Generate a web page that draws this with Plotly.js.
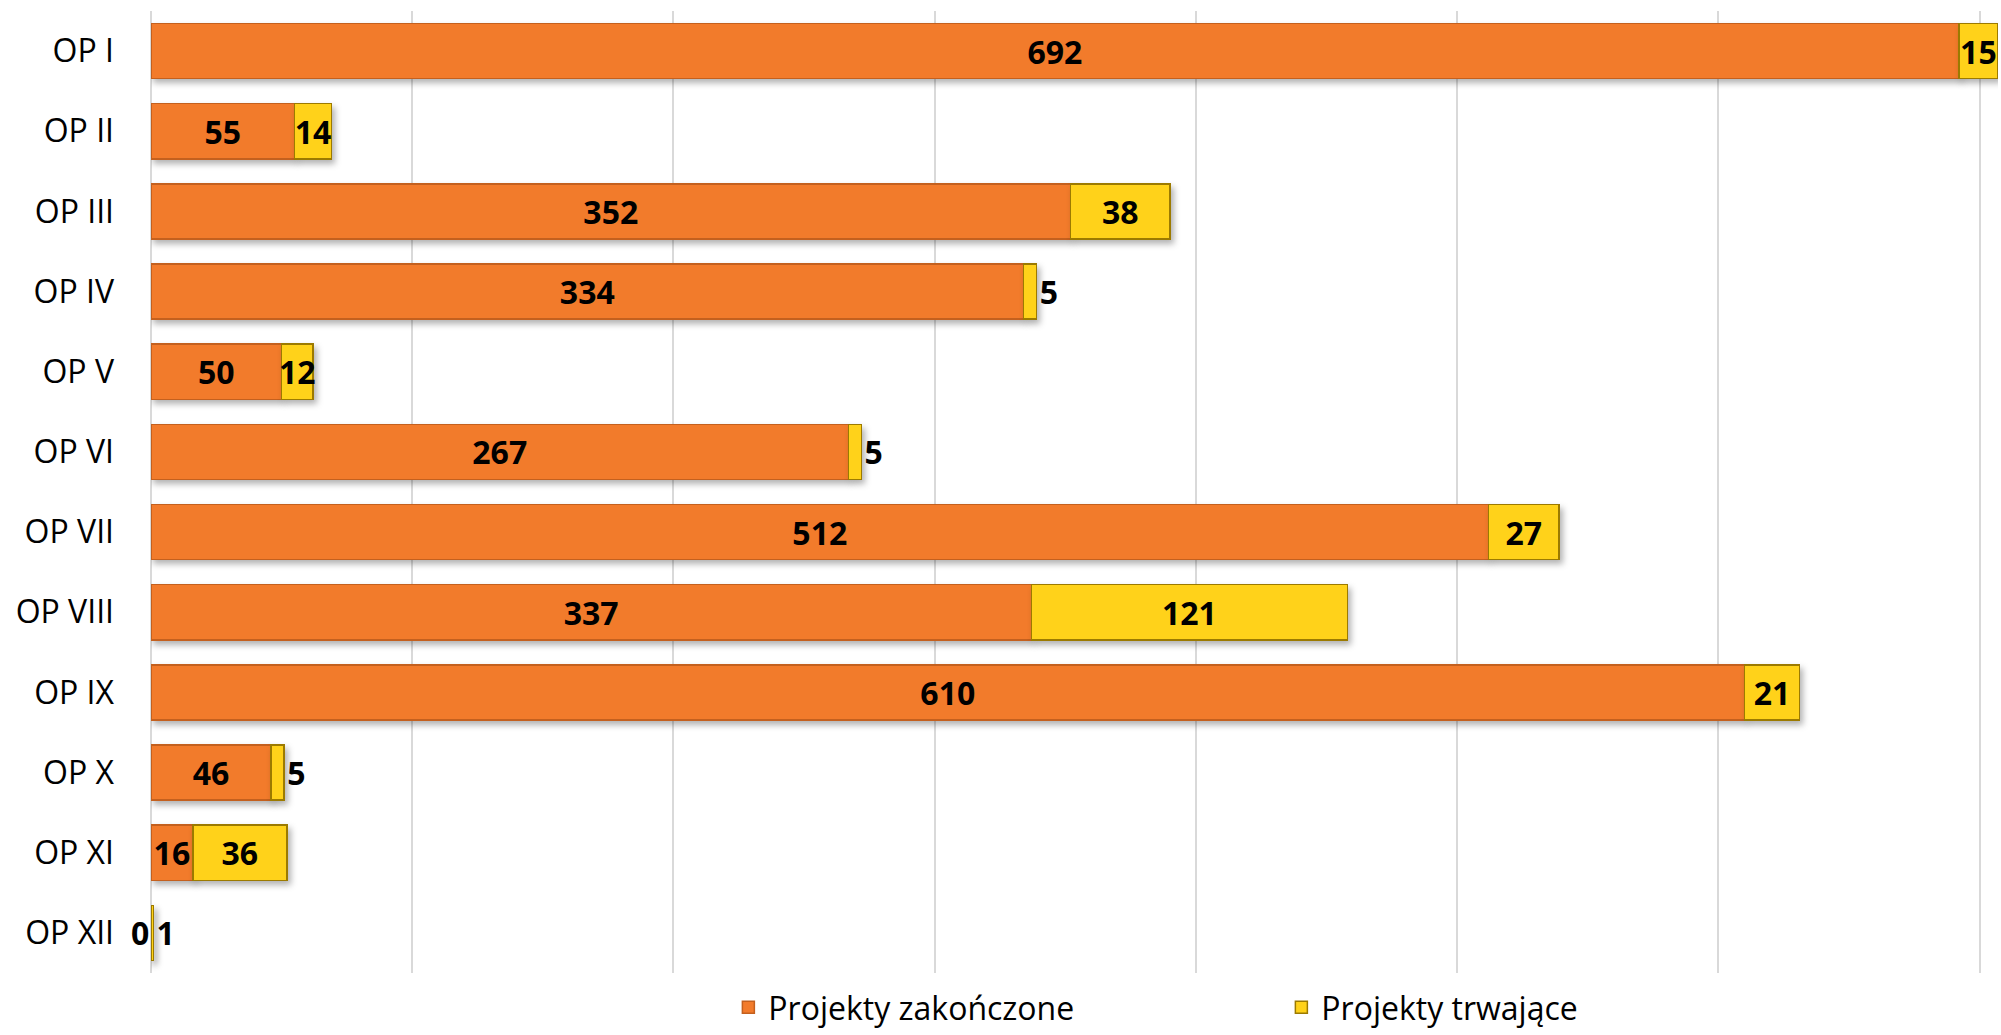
<!DOCTYPE html>
<html>
<head>
<meta charset="utf-8">
<script src="https://cdn.plot.ly/plotly-3.0.1.min.js"></script>
<style>
html,body{margin:0;padding:0;background:#fff;}
#chart{width:2001px;height:1035px;}
.trace.bars .point path{filter:drop-shadow(3px 4px 3px rgba(0,0,0,0.30));}
</style>
</head>
<body>
<div id="chart"></div>
<script>
const categories = ['OP I','OP II','OP III','OP IV','OP V','OP VI','OP VII','OP VIII','OP IX','OP X','OP XI','OP XII'];
const zakonczone = [692,55,352,334,50,267,512,337,610,46,16,0];
const trwajace = [15,14,38,5,12,5,27,121,21,5,36,1];
const seriesNames = ['Projekty zakończone','Projekty trwające'];

const trwajacePos = trwajace.map(v => v < 10 ? 'outside' : 'inside');

const labelFont = {family:'Open Sans, sans-serif', size:32, color:'#000', weight:700};

const traces = [
  {
    type:'bar', orientation:'h', name:seriesNames[0],
    y:categories, x:zakonczone,
    text:zakonczone.map(String), textposition:'inside', insidetextanchor:'middle',
    textangle:0, constraintext:'none', cliponaxis:false,
    insidetextfont:labelFont, outsidetextfont:labelFont, textfont:labelFont,
    marker:{color:'#F27B2B', line:{color:'#C4601E', width:1.5}},
    hoverinfo:'x+y'
  },
  {
    type:'bar', orientation:'h', name:seriesNames[1],
    y:categories, x:trwajace,
    text:trwajace.map(String), textposition:trwajacePos, insidetextanchor:'middle',
    textangle:0, constraintext:'none', cliponaxis:false,
    insidetextfont:labelFont, outsidetextfont:labelFont, textfont:labelFont,
    marker:{color:'#FFD21A', line:{color:'#9C7A00', width:1.5}},
    hoverinfo:'x+y'
  }
];

// labels for zero-length bars (Plotly does not draw text on empty bars)
const zeroAnnotations = [];
zakonczone.forEach((v, i) => {
  if (v === 0) {
    zeroAnnotations.push({
      x: v, y: categories[i], xref:'x', yref:'y',
      text: String(v), showarrow:false, xanchor:'right', yanchor:'middle',
      font: labelFont
    });
  }
});

const layout = {
  width:2001, height:1035,
  paper_bgcolor:'#fff', plot_bgcolor:'#fff',
  barmode:'stack', bargap:0.31,
  margin:{l:151, r:3, t:11, b:62, pad:0},
  font:{family:'Open Sans, sans-serif', color:'#000'},
  xaxis:{
    range:[0,707], dtick:100, tick0:0, showticklabels:false,
    showgrid:true, gridcolor:'#D9D9D9', gridwidth:2,
    zeroline:true, zerolinecolor:'#D9D9D9', zerolinewidth:2,
    showline:false, ticks:'', fixedrange:true
  },
  yaxis:{
    autorange:'reversed', type:'category',
    tickfont:{family:'Open Sans, sans-serif', size:32, color:'#000'},
    ticks:'', showgrid:false, showline:false, zeroline:false,
    ticklabelstandoff:36, fixedrange:true
  },
  annotations: zeroAnnotations,
  showlegend:true,
  legend:{
    orientation:'h', xref:'container', yref:'container',
    x:0.364, xanchor:'left', y:0, yanchor:'bottom',
    font:{family:'Open Sans, sans-serif', size:32, color:'#000'},
    entrywidth:508, entrywidthmode:'pixels', traceorder:'normal',
    itemclick:false, itemdoubleclick:false
  }
};

Plotly.newPlot('chart', traces, layout, {displayModeBar:false, staticPlot:true});
</script>
</body>
</html>
